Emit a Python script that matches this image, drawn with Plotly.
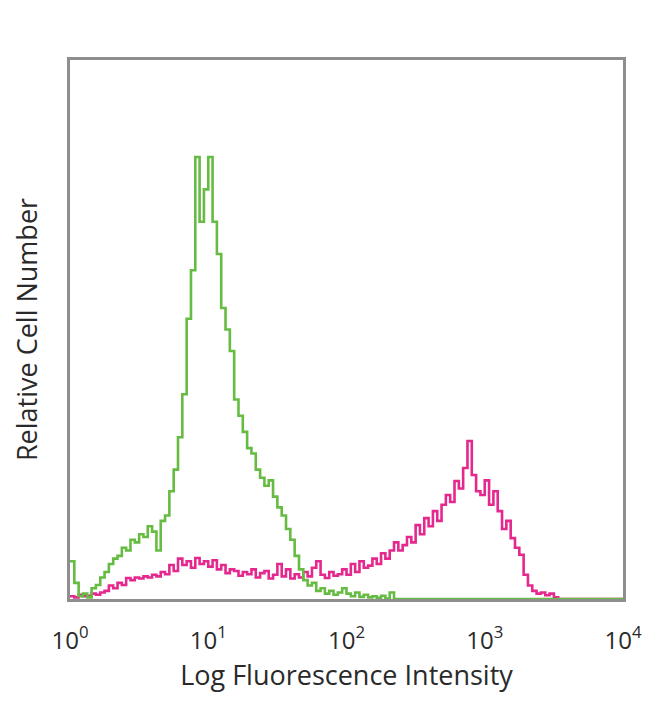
import numpy as np
import plotly.graph_objects as go

# 128 log-spaced channels spanning 10^0 .. 10^4
n_channels = 128
green_counts = [
    7, 3, 0.5, 1, 0.3, 2, 2.6, 4, 5, 6.5, 7.5, 8, 9.5, 9, 11, 10.5,
    12, 11.5, 13.5, 12.5, 9, 14.5, 15.5, 20, 24, 30, 38, 52, 61, 82, 70, 76,
    82, 70, 64, 54, 50, 46, 37, 34, 31, 28, 27, 24, 22.5, 21, 22, 19,
    17, 15.5, 13, 11, 8, 5.5, 3.5, 2.5, 3, 1.5, 2, 1, 1.5, 0.8, 1.2, 2,
    1, 0.5, 1.2, 0.4, 0.8, 0.3, 0.5, 0.2, 0.6, 0.1, 1.2, 0,
]
magenta_counts = [
    0.5, 0.3, 0.8, 0.5, 0.6, 1, 0.8, 1.2, 1.5, 2.5, 2, 3, 2.6, 3.9, 3.5, 4,
    3.8, 4.2, 4, 4.5, 4.2, 5, 4.6, 6.3, 5.2, 7.5, 6.3, 7, 5.8, 7.6, 6.5, 7,
    6, 7.2, 5.5, 6.3, 4.8, 5.5, 5.2, 4.3, 5, 4.6, 5.5, 4, 4.8, 5.2, 3.8, 4.5,
    6.5, 4.2, 5.5, 3.8, 4.6, 4, 5, 4.2, 5.8, 7, 4.5, 3.9, 5, 4.3, 4.6, 5.5,
    4.5, 6.5, 5, 7, 5.8, 6.2, 7.5, 6.5, 8.5, 7.5, 9, 10.5, 9, 10, 11.5, 10.5,
    13.7, 12, 15, 13.5, 16.3, 14.5, 17.5, 19.3, 18, 21.9, 20.5, 24.3, 29.3, 23, 20, 19.3,
    22, 17.5, 20, 16.3, 13, 14.5, 11.3, 9.5, 8.2, 4.5, 2.5, 1.5, 1, 1.2, 0.7, 1,
    0.3, 0,
]
tick_vals = [1, 10, 100, 1000, 10000]
tick_text = ["10<sup>0</sup>", "10<sup>1</sup>", "10<sup>2</sup>", "10<sup>3</sup>", "10<sup>4</sup>"]

def pad(vals):
    return list(vals) + [0] * (n_channels - len(vals))

edges = 10 ** (np.arange(n_channels + 1) * 4 / n_channels)

def step(vals):
    v = pad(vals)
    return list(edges), v + [v[-1]]

fig = go.Figure()
xm, ym = step(magenta_counts)
fig.add_trace(go.Scatter(x=xm, y=ym, mode="lines", line=dict(color="#e4288e", width=2.6, shape="hv"),
                         showlegend=False))
xg, yg = step(green_counts)
fig.add_trace(go.Scatter(x=xg, y=yg, mode="lines", line=dict(color="#66bc42", width=2.6, shape="hv"),
                         showlegend=False))

font_family = "Open Sans, DejaVu Sans, sans-serif"
fig.update_layout(
    width=650, height=704,
    margin=dict(l=62, r=35, t=52, b=113),
    paper_bgcolor="white", plot_bgcolor="white",
    font=dict(family=font_family, color="#2a2a2a"),
    xaxis=dict(type="log", range=[0, 4], tickvals=tick_vals, ticktext=tick_text,
               showgrid=False, zeroline=False, showline=True, linecolor="#8e8e8e", linewidth=2.5,
               mirror=True, ticks="", tickfont=dict(size=24), ticklabelstandoff=18,
               title=dict(text="Log Fluorescence Intensity", font=dict(size=27), standoff=2)),
    yaxis=dict(range=[0, 100], showticklabels=False, showgrid=False, zeroline=False,
               showline=True, linecolor="#8e8e8e", linewidth=2.5, mirror=True, ticks="",
               title=dict(text="Relative Cell Number", font=dict(size=27), standoff=22)),
)
fig.write_html("out.html")
